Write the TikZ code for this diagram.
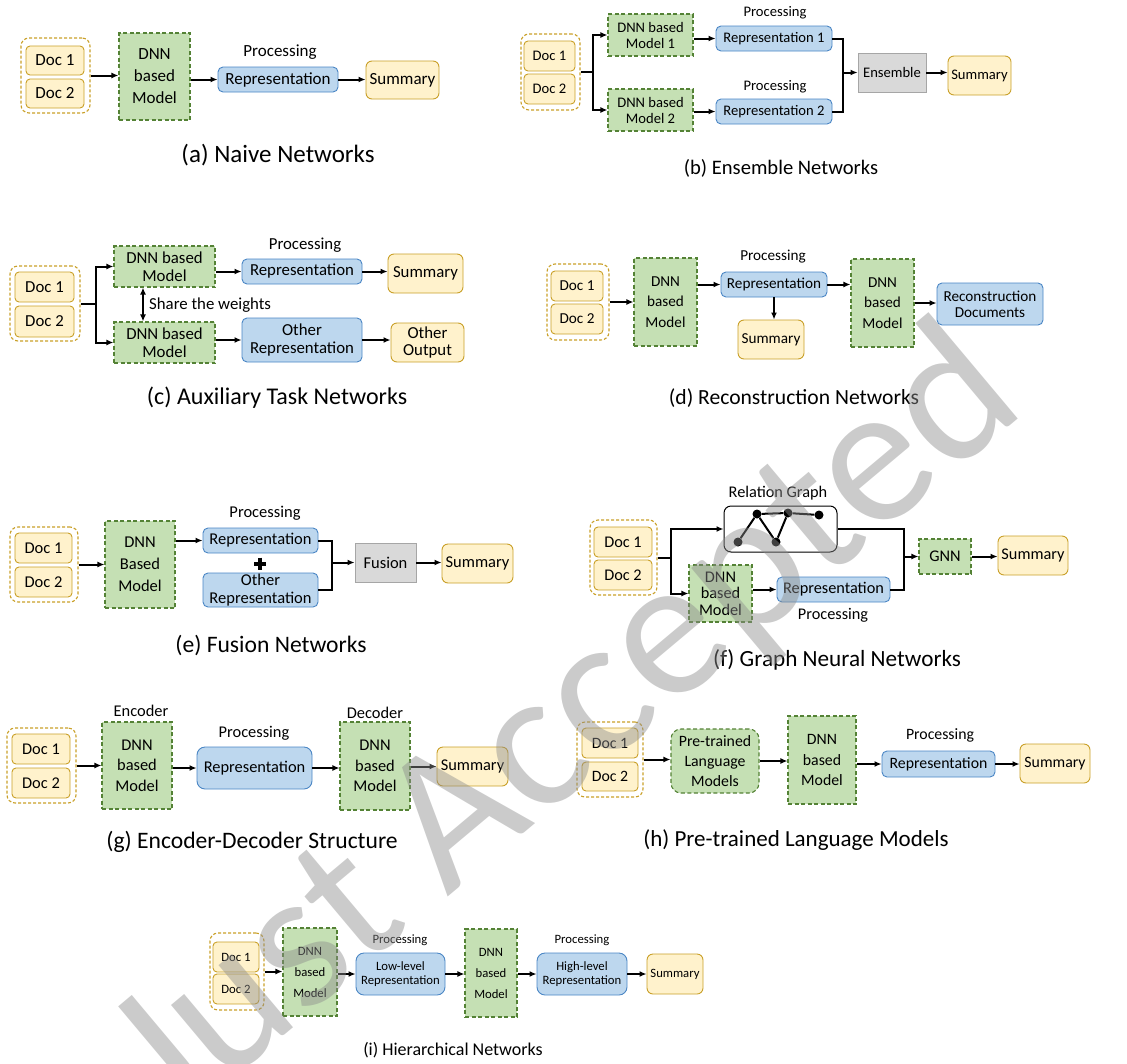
\documentclass[tikz,border=0pt]{standalone}
\usepackage{fontspec}
\setmainfont{Carlito}
\usepackage{tikz}
\usetikzlibrary{arrows.meta,positioning}
\definecolor{docfill}{RGB}{255,242,204}
\definecolor{docline}{RGB}{201,160,40}
\definecolor{dnnfill}{RGB}{197,224,180}
\definecolor{dnnline}{RGB}{84,130,53}
\definecolor{repfill}{RGB}{189,215,238}
\definecolor{repline}{RGB}{74,134,197}
\definecolor{grayfill}{RGB}{217,217,217}
\definecolor{grayline}{RGB}{166,166,166}

\begin{document}
\begin{tikzpicture}[
  x=1pt,y=-1pt,
  every node/.style={inner sep=1pt,align=center},
  panel/.style 2 args={every node/.append style={font=\fontsize{#1}{#2}\selectfont}},
  captxt/.style={font=\fontsize{#1}{#1}\selectfont},
  sz/.style 2 args={minimum width=#1pt,minimum height=#2pt},
  doc/.style={draw=docline,fill=docfill,rounded corners=4pt,line width=0.9pt},
  grp/.style={draw=docline,dash pattern=on 3pt off 2pt,rounded corners=8pt,line width=1.1pt},
  dnn/.style={draw=dnnline,fill=dnnfill,dash pattern=on 4pt off 2.5pt,line width=1.1pt},
  rep/.style={draw=repline,fill=repfill,rounded corners=5pt,line width=0.9pt},
  summ/.style={draw=docline,fill=docfill,rounded corners=6pt,line width=0.9pt},
  mix/.style={draw=grayline,fill=grayfill,line width=0.9pt},
  dot/.style={circle,fill=black,inner sep=0pt,minimum size=9pt},
  ln/.style={line width=2pt},
  arr/.style={ln,-{Latex[length=7pt,width=6pt]}},
  dbl/.style={ln,{Latex[length=7pt,width=6pt]}-{Latex[length=7pt,width=6pt]}}
]
\useasboundingbox (0,0) rectangle (1127,1063);

% (a) naive
\begin{scope}[panel={17}{18}]
\node[grp,sz={69}{75}] (a-grp) at (55.5,75.5) {};
\node[doc,sz={58}{29}] (a-d1) at (55,60.5) {Doc 1};
\node[doc,sz={58}{29}] (a-d2) at (55,93.5) {Doc 2};
\node[dnn,sz={71}{87}] (a-dnn) at (154.5,76.5) {DNN\\[4pt]based\\[4pt]Model};
\node[rep,sz={120}{25}] (a-rep) at (278,79.5) {Representation};
\node (a-proc) at (280,52) {Processing};
\node[summ,sz={73}{38}] (a-sum) at (402.5,80) {Summary};
\draw[arr] (a-grp.east) -- (a-grp.east -| a-dnn.west);
\draw[arr] (a-rep.west -| a-dnn.east) -- (a-rep.west);
\draw[arr] (a-rep.east) -- (a-rep.east -| a-sum.west);
\node[captxt=25] (a-cap) at (278,155) {(a) Naive Networks};
\end{scope}

% (b) ensemble
\begin{scope}[panel={14.6}{16}]
\node[grp,sz={59}{76}] (b-grp) at (550.5,72) {};
\node[doc,sz={51}{30}] (b-d1) at (549.5,56) {Doc 1};
\node[doc,sz={51}{30}] (b-d2) at (549.5,89) {Doc 2};
\node[dnn,sz={85}{42}] (b-dnn1) at (650.5,35) {DNN based\\Model 1};
\node[dnn,sz={85}{42}] (b-dnn2) at (650.5,110) {DNN based\\Model 2};
\node[rep,sz={116}{25}] (b-rep1) at (774,38.5) {Representation 1};
\node[rep,sz={116}{25}] (b-rep2) at (774,111.5) {Representation 2};
\node (b-proc1) at (775,13) {Processing};
\node (b-proc2) at (775,87) {Processing};
\node[mix,sz={68}{39}] (b-ens) at (892,72.5) {Ensemble};
\node[summ,sz={63}{39}] (b-sum) at (979.5,75.5) {Summary};
\draw[ln] (b-grp.east) -- ++(12,0) coordinate (b-sp);
\draw[arr] (b-sp) |- (b-dnn1.west);
\draw[arr] (b-sp) |- (b-dnn2.west);
\draw[arr] (b-rep1.west -| b-dnn1.east) -- (b-rep1.west);
\draw[arr] (b-rep2.west -| b-dnn2.east) -- (b-rep2.west);
\draw[ln] (b-rep1.east) -- ++(11,0) coordinate (b-j) |- (b-rep2.east);
\draw[arr] (b-ens.west -| b-j) -- (b-ens.west);
\draw[arr] (b-ens.east) -- (b-ens.east -| b-sum.west);
\node[captxt=20.6] (b-cap) at (781,168) {(b) Ensemble Networks};
\end{scope}

% (c) auxiliary task
\begin{scope}[panel={16.8}{17.5}]
\node[grp,sz={70}{75}] (c-grp) at (45,303.5) {};
\node[doc,sz={59}{30}] (c-d1) at (44.5,287) {Doc 1};
\node[doc,sz={59}{31}] (c-d2) at (44.5,321.5) {Doc 2};
\node[dnn,sz={101}{41}] (c-dnn1) at (164.5,266.5) {DNN based\\Model};
\node[dnn,sz={101}{41}] (c-dnn2) at (164.5,342.5) {DNN based\\Model};
\node[rep,sz={120}{25}] (c-rep) at (302,271.5) {Representation};
\node (c-proc) at (305,245) {Processing};
\node[summ,sz={75}{39}] (c-sum) at (425.5,273.5) {Summary};
\node[rep,sz={120}{44}] (c-orep) at (302,340) {Other\\Representation};
\node[summ,sz={73}{39}] (c-oout) at (427.5,342.5) {Other\\Output};
\node[anchor=west] (c-share) at (148,305) {Share the weights};
\draw[ln] (c-grp.east) -- ++(15,0) coordinate (c-sp);
\draw[arr] (c-sp) |- (c-dnn1.west);
\draw[arr] (c-sp) |- (c-dnn2.west);
\draw[dbl] ([xshift=-21.5pt]c-dnn1.south) -- ([xshift=-21.5pt]c-dnn2.north);
\draw[arr] (c-rep.west -| c-dnn1.east) -- (c-rep.west);
\draw[arr] (c-rep.east) -- (c-rep.east -| c-sum.west);
\draw[arr] (c-orep.west -| c-dnn2.east) -- (c-orep.west);
\draw[arr] (c-orep.east) -- (c-orep.east -| c-oout.west);
\node[captxt=24] (c-cap) at (277,398) {(c) Auxiliary Task Networks};
\end{scope}

% (d) reconstruction
\begin{scope}[panel={15.2}{16}]
\node[grp,sz={62}{76}] (d-grp) at (578,302) {};
\node[doc,sz={52}{30}] (d-d1) at (577,286) {Doc 1};
\node[doc,sz={52}{30}] (d-d2) at (577,319) {Doc 2};
\node[dnn,sz={63}{88}] (d-dnn1) at (665.5,302) {DNN\\[4.5pt]based\\[4.5pt]Model};
\node[rep,sz={106}{25}] (d-rep) at (774,284.5) {Representation};
\node (d-proc) at (773,257) {Processing};
\node[summ,sz={66}{39}] (d-sum) at (771,339.5) {Summary};
\node[dnn,sz={63}{88}] (d-dnn2) at (882.5,303) {DNN\\[4.5pt]based\\[4.5pt]Model};
\node[rep,sz={106}{42}] (d-rec) at (990,304) {Reconstruction\\Documents};
\draw[arr] (d-grp.east) -- (d-grp.east -| d-dnn1.west);
\draw[arr] (d-rep.west -| d-dnn1.east) -- (d-rep.west);
\draw[arr] (d-rep.south) -- (d-rep.south |- d-sum.north);
\draw[arr] (d-rep.east) -- (d-rep.east -| d-dnn2.west);
\draw[arr] (d-dnn2.east) -- (d-dnn2.east -| d-rec.west);
\node[captxt=21.6] (d-cap) at (794,398) {(d) Reconstruction Networks};
\end{scope}

% (e) fusion
\begin{scope}[panel={16.5}{17.3}]
\node[grp,sz={68}{75}] (e-grp) at (44,564.5) {};
\node[doc,sz={57}{30}] (e-d1) at (43.5,548) {Doc 1};
\node[doc,sz={57}{30}] (e-d2) at (43.5,582) {Doc 2};
\node[dnn,sz={70}{87}] (e-dnn) at (140,564.5) {DNN\\[4.5pt]Based\\[4.5pt]Model};
\node[rep,sz={115}{25}] (e-rep) at (260.5,540.5) {Representation};
\node (e-proc) at (265,513) {Processing};
\node[rep,sz={115}{34}] (e-orep) at (260.5,590) {Other\\Representation};
\node[mix,sz={61}{39}] (e-fus) at (385.5,562.5) {Fusion};
\node[summ,sz={71}{39}] (e-sum) at (477.5,563.5) {Summary};
\draw[line width=4pt] (254,563.5) -- (266,563.5) (260,557.5) -- (260,569.5);
\draw[arr] (e-grp.east) -- (e-grp.east -| e-dnn.west);
\draw[arr] (e-rep.west -| e-dnn.east) -- (e-rep.west);
\draw[ln] (e-rep.east) -- ++(14,0) coordinate (e-j) |- (e-orep.east);
\draw[arr] (e-fus.west -| e-j) -- (e-fus.west);
\draw[arr] (e-fus.east) -- (e-fus.east -| e-sum.west);
\node[captxt=23.6] (e-cap) at (271,645) {(e) Fusion Networks};
\end{scope}

% (f) graph neural
\begin{scope}[panel={16.3}{16.5}]
\node[grp,sz={67}{75}] (f-grp) at (623.5,557.5) {};
\node[doc,sz={58}{30}] (f-d1) at (623,542) {Doc 1};
\node[doc,sz={58}{30}] (f-d2) at (623,575) {Doc 2};
\node[draw,fill=white,rounded corners=7pt,line width=1pt,sz={113}{46}] (f-graph) at (780.5,529) {};
\node (f-rel) at (778,493) {Relation Graph};
\node[dot] (f-g1) at (738,542) {};
\node[dot] (f-g2) at (757,514) {};
\node[dot] (f-g3) at (776,542) {};
\node[dot] (f-g4) at (788,513) {};
\node[dot] (f-g5) at (819,515) {};
\draw[ln] (f-g1) -- (f-g2) -- (f-g3) -- (f-g4) -- (f-g5);
\draw[ln] (f-g2) -- (f-g4);
\node[dnn,sz={63}{57}] (f-dnn) at (720.5,593.5) {DNN\\based\\Model};
\node[rep,sz={113}{25}] (f-rep) at (833.5,589.5) {Representation};
\node (f-proc) at (833,615) {Processing};
\node[dnn,sz={52}{35}] (f-gnn) at (945,556.5) {GNN};
\node[summ,sz={70}{39}] (f-sum) at (1033,555.5) {Summary};
\draw[ln] (f-grp.east) -- ++(13,0) coordinate (f-sp);
\draw[arr] (f-sp) |- (f-graph.west);
\draw[arr] (f-sp) |- (f-dnn.west);
\draw[arr] (f-rep.west -| f-dnn.east) -- (f-rep.west);
\draw[ln] (f-graph.east) -- ++(66,0) coordinate (f-j) |- (f-rep.east);
\draw[arr] (f-gnn.west -| f-j) -- (f-gnn.west);
\draw[arr] (f-gnn.east) -- (f-gnn.east -| f-sum.west);
\node[captxt=23.2] (f-cap) at (837,660) {(f) Graph Neural Networks};
\end{scope}

% (g) encoder-decoder
\begin{scope}[panel={16.4}{17.2}]
\node[grp,sz={69}{75}] (g-grp) at (41.5,765.5) {};
\node[doc,sz={58}{30}] (g-d1) at (41,749) {Doc 1};
\node[doc,sz={58}{30}] (g-d2) at (41,783) {Doc 2};
\node[dnn,sz={70}{87}] (g-enc) at (137,765.5) {DNN\\[3.5pt]based\\[3.5pt]Model};
\node (g-enclbl) at (141,711) {Encoder};
\node[rep,sz={115}{42},rounded corners=8pt] (g-rep) at (254.5,768) {Representation};
\node (g-proc) at (254,733) {Processing};
\node[dnn,sz={70}{88}] (g-dec) at (375,766) {DNN\\[3.5pt]based\\[3.5pt]Model};
\node (g-declbl) at (375,713) {Decoder};
\node[summ,sz={71}{39}] (g-sum) at (472.5,766.5) {Summary};
\draw[arr] (g-grp.east) -- (g-grp.east -| g-enc.west);
\draw[arr] (g-rep.west -| g-enc.east) -- (g-rep.west);
\draw[arr] (g-rep.east) -- (g-rep.east -| g-dec.west);
\draw[arr] (g-sum.west -| g-dec.east) -- (g-sum.west);
\node[captxt=23.6] (g-cap) at (252,842) {(g) Encoder-Decoder Structure};
\end{scope}

% (h) pre-trained language models
\begin{scope}[panel={15.8}{16.6}]
\node[grp,sz={66}{75}] (h-grp) at (610,759.5) {};
\node[doc,sz={56}{30}] (h-d1) at (610,743) {Doc 1};
\node[doc,sz={56}{29}] (h-d2) at (610,776.5) {Doc 2};
\node[dnn,rounded corners=10pt,sz={88}{64}] (h-plm) at (715,761) {Pre-trained\\[3.5pt]Language\\[3.5pt]Models};
\node[dnn,sz={68}{88}] (h-dnn) at (822,760) {DNN\\[3.5pt]based\\[3.5pt]Model};
\node[rep,sz={113}{26}] (h-rep) at (938.5,764) {Representation};
\node (h-proc) at (940,735) {Processing};
\node[summ,sz={70}{39}] (h-sum) at (1055,763.5) {Summary};
\draw[arr] (h-grp.east) -- (h-grp.east -| h-plm.west);
\draw[arr] (h-plm.east) -- (h-plm.east -| h-dnn.west);
\draw[arr] (h-rep.west -| h-dnn.east) -- (h-rep.west);
\draw[arr] (h-rep.east) -- (h-rep.east -| h-sum.west);
\node[captxt=23] (h-cap) at (796,840) {(h) Pre-trained Language Models};
\end{scope}

% (i) hierarchical
\begin{scope}[panel={12.7}{14.5}]
\node[grp,sz={54}{77}] (i-grp) at (237,971.5) {};
\node[doc,sz={46}{30}] (i-d1) at (236,957) {Doc 1};
\node[doc,sz={46}{30}] (i-d2) at (236,989) {Doc 2};
\node[dnn,sz={54}{88}] (i-dnn1) at (310,972) {DNN\\[6.5pt]based\\[6.5pt]Model};
\node[rep,rounded corners=8pt,sz={89}{42}] (i-low) at (400.5,974) {Low-level\\Representation};
\node (i-proc1) at (400,940) {Processing};
\node[dnn,sz={52}{88}] (i-dnn2) at (491,973) {DNN\\[6.5pt]based\\[6.5pt]Model};
\node[rep,rounded corners=8pt,sz={90}{42}] (i-high) at (582,974) {High-level\\Representation};
\node (i-proc2) at (582,940) {Processing};
\node[summ,sz={56}{40}] (i-sum) at (675,974) {Summary};
\draw[arr] (i-grp.east) -- (i-grp.east -| i-dnn1.west);
\draw[arr] (i-low.west -| i-dnn1.east) -- (i-low.west);
\draw[arr] (i-low.east) -- (i-low.east -| i-dnn2.west);
\draw[arr] (i-high.west -| i-dnn2.east) -- (i-high.west);
\draw[arr] (i-high.east) -- (i-high.east -| i-sum.west);
\node[captxt=18] (i-cap) at (453,1050) {(i) Hierarchical Networks};
\end{scope}

% watermark
\node[rotate=40,font=\fontsize{200}{200}\selectfont,text=black!45,text opacity=0.45] (wm) at (567,728) {Just Accepted};
\end{tikzpicture}
\end{document}
